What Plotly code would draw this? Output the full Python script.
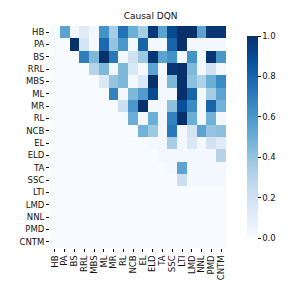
import plotly.graph_objects as go

labels = ["HB", "PA", "BS", "RRL", "MBS", "ML", "MR", "RL", "NCB", "EL",
          "ELD", "TA", "SSC", "LTI", "LMD", "NNL", "PMD", "CNTM"]

row_HB = [0, 0.55, 0.02, 0.12, 0.03, 0.62, 0.35, 0.75, 0.5, 0.35, 0.97, 0.55, 0.9, 1.0, 1.0, 0.55, 0.98, 0.98]
row_PA = [0, 0, 1.0, 0.18, 0.02, 0.78, 0.4, 0.6, 0.02, 0.8, 0.02, 0.02, 0.8, 1.0, 0.02, 0.02, 0.02, 0.02]
row_BS = [0, 0, 0, 0.7, 0.45, 1.0, 0.72, 0.02, 0.2, 0.38, 0.98, 0.55, 0.62, 0.02, 0.62, 0.02, 0.98, 0.6]
row_RRL = [0, 0, 0, 0, 0.3, 0.45, 0.02, 0.45, 0.15, 0.02, 0.55, 0.02, 0.98, 1.0, 0.45, 0.02, 0.2, 0.02]
row_MBS = [0, 0, 0, 0, 0, 0.15, 0.4, 0.45, 0.02, 0.15, 1.0, 0.02, 0.45, 1.0, 0.42, 0.32, 0.5, 0.65]
row_ML = [0, 0, 0, 0, 0, 0, 0.68, 0.02, 0.45, 0.58, 0.9, 0.02, 0.02, 1.0, 0.8, 0.02, 0.35, 0.55]
row_MR = [0, 0, 0, 0, 0, 0, 0, 0.22, 0.6, 1.0, 0.02, 0.02, 0.42, 0.88, 0.65, 0.02, 0.8, 0.48]
row_RL = [0, 0, 0, 0, 0, 0, 0, 0, 0.5, 0.02, 0.5, 0.02, 0.68, 1.0, 0.5, 0.02, 0.48, 0.02]
row_NCB = [0, 0, 0, 0, 0, 0, 0, 0, 0, 0.48, 0.38, 0.02, 0.72, 0.02, 0.18, 0.55, 0.4, 0.42]
row_EL = [0, 0, 0, 0, 0, 0, 0, 0, 0, 0, 0.02, 0.02, 0.35, 0.02, 0.15, 0.02, 0.2, 0.12]
row_ELD = [0, 0, 0, 0, 0, 0, 0, 0, 0, 0, 0, 0.02, 0.02, 0.02, 0.02, 0.02, 0.02, 0.3]
row_TA = [0, 0, 0, 0, 0, 0, 0, 0, 0, 0, 0, 0, 0.02, 0.55, 0.02, 0.02, 0.02, 0.02]
row_SSC = [0, 0, 0, 0, 0, 0, 0, 0, 0, 0, 0, 0, 0, 0.22, 0.02, 0.02, 0.02, 0.02]
row_LTI = [0] * 18
row_LMD = [0] * 18
row_NNL = [0] * 18
row_PMD = [0] * 18
row_CNTM = [0] * 18

z = [row_HB, row_PA, row_BS, row_RRL, row_MBS, row_ML, row_MR, row_RL, row_NCB,
     row_EL, row_ELD, row_TA, row_SSC, row_LTI, row_LMD, row_NNL, row_PMD, row_CNTM]

blues = ['rgb(247,251,255)', 'rgb(222,235,247)', 'rgb(198,219,239)', 'rgb(158,202,225)',
         'rgb(107,174,214)', 'rgb(66,146,198)', 'rgb(33,113,181)', 'rgb(8,81,156)', 'rgb(8,48,107)']
colorscale = [[i / 8, c] for i, c in enumerate(blues)]

font = dict(family="DejaVu Sans", size=8.5, color="#111111")

fig = go.Figure(go.Heatmap(
    z=z, x=labels, y=labels, zmin=0, zmax=1, colorscale=colorscale,
    colorbar=dict(
        x=1.065, xanchor="left", xref="paper", y=0.5, yanchor="middle",
        len=1.0, lenmode="fraction", thickness=11, outlinewidth=0,
        tickvals=[0, 0.2, 0.4, 0.6, 0.8, 1.0], ticktext=["0.0", "0.2", "0.4", "0.6", "0.8", "1.0"],
        ticks="outside", ticklen=3, tickcolor="#111111", tickfont=font,
    ),
))

fig.update_layout(
    width=291, height=283,
    margin=dict(l=42, r=48, t=18, b=43),
    paper_bgcolor="white", plot_bgcolor="white",
    font=font,
    title=dict(text="Causal DQN", x=0.49, xanchor="center", y=0.985, yanchor="top",
               font=dict(family="DejaVu Sans", size=9, color="#111111")),
)
fig.update_xaxes(tickangle=-90, ticks="outside", ticklen=3, tickcolor="#111111",
                 tickmode="linear", tick0=0, dtick=1,
                 showgrid=False, zeroline=False, tickfont=font)
fig.update_yaxes(autorange="reversed", ticks="outside", ticklen=3, tickcolor="#111111",
                 tickmode="linear", tick0=0, dtick=1,
                 showgrid=False, zeroline=False, tickfont=font)

fig.write_html("out.html")
